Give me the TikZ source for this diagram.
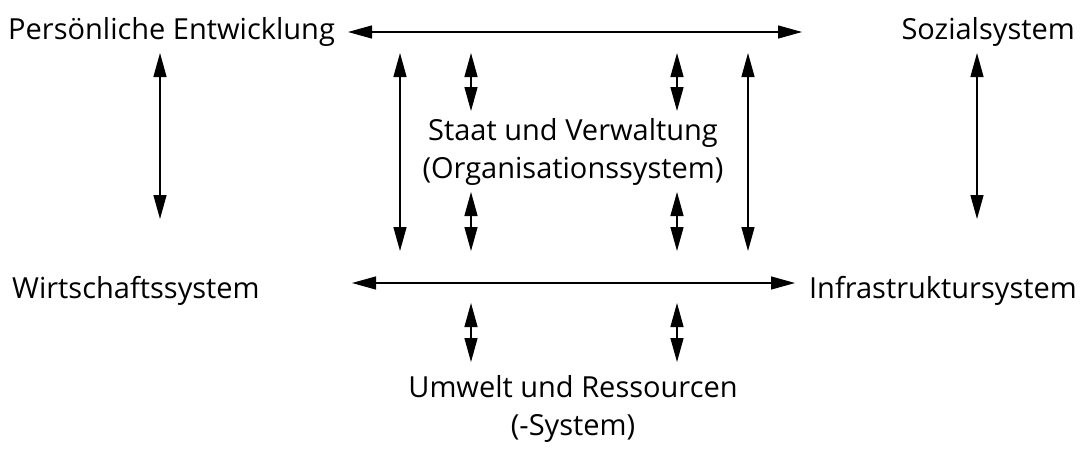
\documentclass[tikz,border=0pt]{standalone}
\usepackage{fontspec}
\setmainfont{Open Sans}
\usetikzlibrary{arrows.meta}
\begin{document}
\begin{tikzpicture}[x=1pt,y=-1pt,
  lbl/.style={inner sep=0pt,font=\fontsize{29}{38.5}\selectfont,align=center},
  dbl/.style={line width=1.3pt,{Triangle[length=24pt,width=13pt]}-{Triangle[length=24pt,width=13pt]}}]
\useasboundingbox (0,0) rectangle (1091,450);
\node[lbl,anchor=west] (pe) at (8,32) {Persönliche Entwicklung};
\node[lbl,anchor=east] (so) at (1075,32) {Sozialsystem};
\node[lbl,anchor=west] (wi) at (12,291) {Wirtschaftssystem};
\node[lbl,anchor=east] (in) at (1077,291) {Infrastruktursystem};
\node[lbl] (st) at (573,152) {Staat und Verwaltung\\(Organisationssystem)};
\node[lbl] (um) at (573,409) {Umwelt und Ressourcen\\(-System)};
% coordinates
\coordinate (t1) at (348,32); \coordinate (t2) at (802,32);
\coordinate (m1) at (352,283); \coordinate (m2) at (795,283);
\coordinate (l1) at (160,53); \coordinate (l2) at (160,219);
\coordinate (r1) at (977,53); \coordinate (r2) at (977,219);
\coordinate (a1) at (400,53); \coordinate (a2) at (400,251);
\coordinate (b1) at (748,53); \coordinate (b2) at (748,251);
\coordinate (c1) at (471,53); \coordinate (c2) at (471,111);
\coordinate (d1) at (677,53); \coordinate (d2) at (677,111);
\coordinate (e1) at (471,192); \coordinate (e2) at (471,251);
\coordinate (f1) at (677,192); \coordinate (f2) at (677,251);
\coordinate (g1) at (471,303); \coordinate (g2) at (471,362);
\coordinate (h1) at (677,303); \coordinate (h2) at (677,362);
\foreach \p in {t,m,l,r,a,b,c,d,e,f,g,h}
  \draw[dbl] (\p1) -- (\p2);
\end{tikzpicture}
\end{document}
